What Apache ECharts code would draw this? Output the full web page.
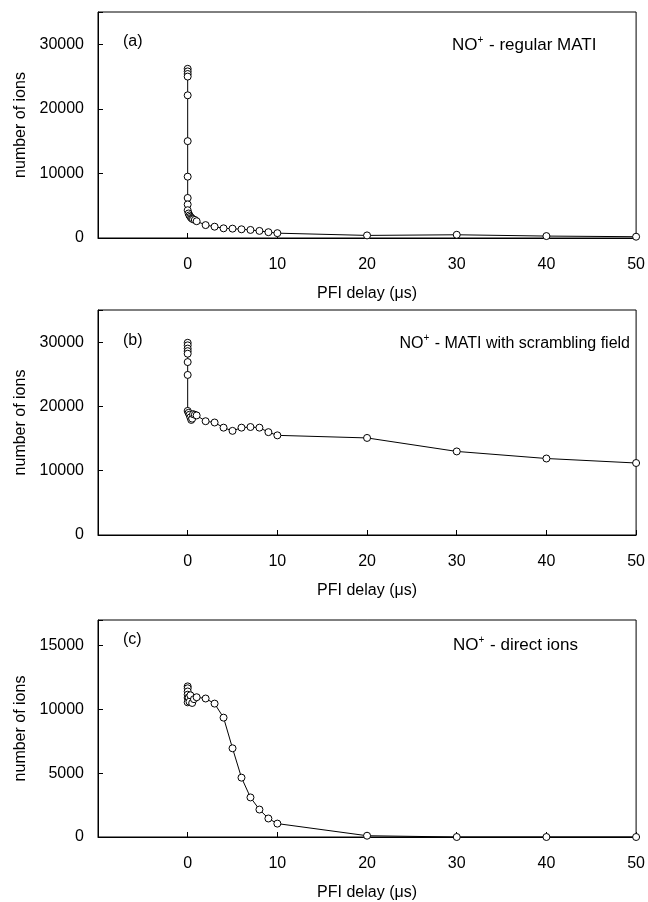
<!DOCTYPE html>
<html>
<head>
<meta charset="utf-8">
<script src="https://cdn.jsdelivr.net/npm/echarts@6/dist/echarts.min.js"></script>
<style>html,body{margin:0;padding:0;background:#fff;}#c{width:648px;height:902px;}</style>
</head>
<body>
<div id="c"></div>
<script>
// Panel (a): regular MATI
var xA = [0,0,0,0,0,0,0,0,0,0,0.1,0.2,0.3,0.4,0.5,0.6,0.8,1,2,3,4,5,6,7,8,9,10,20,30,40,50];
var yA = [26200,25800,25400,25000,22100,15000,9500,6200,5200,4300,3800,3500,3300,3100,3000,2900,2800,2600,2000,1750,1500,1450,1350,1250,1100,900,750,400,500,300,200];
// Panel (b): MATI with scrambling field
var xB = [0,0,0,0,0,0,0,0,0.1,0.2,0.3,0.4,0.5,0.6,0.8,1,2,3,4,5,6,7,8,9,10,20,30,40,50];
var yB = [29900,29500,29000,28600,28200,26900,24900,19300,19000,18700,18300,17900,18100,18800,18700,18600,17700,17500,16700,16200,16700,16800,16700,16000,15500,15100,13000,11900,11200];
// Panel (c): direct ions
var xC = [0,0,0,0,0,0,0.1,0.2,0.3,0.5,0.7,1,2,3,4,5,6,7,8,9,10,20,30,40,50];
var yC = [11800,11650,11400,11150,10900,10550,10900,10600,11100,10500,10800,10950,10850,10450,9350,6950,4650,3100,2150,1450,1050,100,0,0,0];

var xTicks = [0,10,20,30,40,50];
var yTicksAB = [0,10000,20000,30000];
var yTicksC = [0,5000,10000,15000];

var labelsA = ['(a)', 'NO', '+', ' - regular MATI'];
var labelsB = ['(b)', 'NO', '+', ' - MATI with scrambling field'];
var labelsC = ['(c)', 'NO', '+', ' - direct ions'];
var xName = 'PFI delay (\u03bcs)';
var yName = 'number of ions';

var FONT = '"Liberation Sans", Arial, sans-serif';

function zip(xs, ys){ return xs.map(function(x,i){ return [x, ys[i]]; }); }

var grids = [
  {left: 98, right: 11, top: 12, height: 226},
  {left: 98, right: 11, top: 310, height: 225},
  {left: 98, right: 11, top: 620, height: 219}
];
grids.forEach(function(g){ g.show = true; g.borderColor = '#000'; g.borderWidth = 1; g.backgroundColor = 'transparent'; });

function xAxis(i){
  return {
    type: 'value', gridIndex: i, min: -10, max: 50, interval: 10,
    name: xName, nameLocation: 'middle', nameGap: 48,
    nameTextStyle: {fontFamily: FONT, fontSize: 16, color: '#000'},
    axisLine: {show: true, onZero: false, lineStyle: {color: '#000', width: 1}},
    axisTick: {show: true, inside: true, length: 5, lineStyle: {color: '#000'}},
    axisLabel: {fontFamily: FONT, fontSize: 16, color: '#000', margin: 19,
      formatter: function(v){ return xTicks.indexOf(v) >= 0 ? String(v) : ''; }},
    splitLine: {show: false}
  };
}
function yAxis(i, max, interval, ticks){
  return {
    type: 'value', gridIndex: i, min: 0, max: max, interval: interval,
    name: yName, nameLocation: 'middle', nameGap: 66, nameRotate: 90,
    nameTextStyle: {fontFamily: FONT, fontSize: 16, color: '#000'},
    axisLine: {show: true, onZero: false, lineStyle: {color: '#000', width: 1}},
    axisTick: {show: true, inside: true, length: 5, lineStyle: {color: '#000'}},
    axisLabel: {fontFamily: FONT, fontSize: 16, color: '#000', margin: 14,
      formatter: function(v){ return ticks.indexOf(v) >= 0 ? String(v) : ''; }},
    splitLine: {show: false}
  };
}
function series(i, xs, ys){
  return {
    type: 'line', xAxisIndex: i, yAxisIndex: i, data: zip(xs, ys),
    symbol: 'circle', symbolSize: 7,
    itemStyle: {color: '#fff', borderColor: '#000', borderWidth: 1},
    lineStyle: {color: '#000', width: 1},
    animation: false, z: 3
  };
}
function annot(labels, tagX, tagY, txtPos, txtY, fs){
  var t = {type: 'text', top: txtY - 11, style: {
      text: '{n|' + labels[1] + '}{s|' + labels[2] + '}{n|' + labels[3] + '}',
      rich: {
        n: {fontFamily: FONT, fontSize: fs, fill: '#000', color: '#000', lineHeight: 20, verticalAlign: 'bottom'},
        s: {fontFamily: FONT, fontSize: 10, fill: '#000', color: '#000', lineHeight: 20, verticalAlign: 'top', padding: [1,1,0,0]}
      }
    }};
  for (var k in txtPos) t[k] = txtPos[k];
  return [
    {type: 'text', left: tagX, top: tagY - 9, style: {text: labels[0], font: '16px ' + FONT, fill: '#000'}},
    t
  ];
}

var chart = echarts.init(document.getElementById('c'), null, {renderer: 'canvas'});
chart.setOption({
  animation: false,
  backgroundColor: '#fff',
  grid: grids,
  xAxis: [xAxis(0), xAxis(1), xAxis(2)],
  yAxis: [yAxis(0, 35000, 10000, yTicksAB), yAxis(1, 35000, 10000, yTicksAB), yAxis(2, 17000, 5000, yTicksC)],
  series: [series(0, xA, yA), series(1, xB, yB), series(2, xC, yC)],
  graphic: [].concat(
    annot(labelsA, 123, 43, {left: 452}, 45, 17),
    annot(labelsB, 123, 342, {right: 18}, 343, 16),
    annot(labelsC, 123, 641, {left: 453}, 645, 17)
  )
});
</script>
</body>
</html>
